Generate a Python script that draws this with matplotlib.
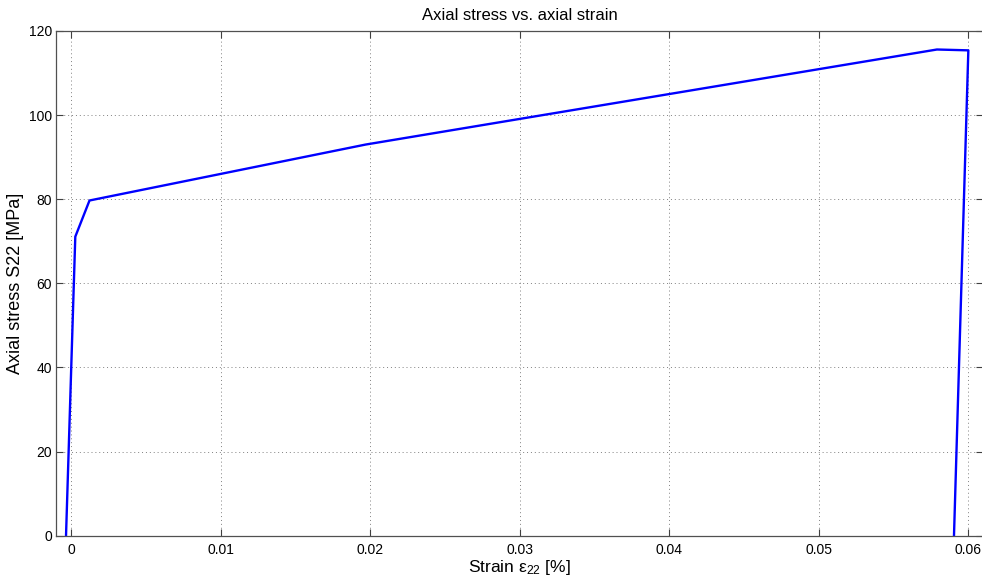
import matplotlib
matplotlib.use("Agg")
import matplotlib.pyplot as plt

plt.rcParams['font.family'] = ['Liberation Sans', 'DejaVu Sans']
plt.rcParams['mathtext.fontset'] = 'custom'
plt.rcParams['mathtext.rm'] = 'Liberation Sans'
plt.rcParams['mathtext.it'] = 'Liberation Sans'

# stress-strain path: elastic loading, hardening, unloading
strain = [-0.00033, 0.00029, 0.00124, 0.0197, 0.0579, 0.0600, 0.05904]
stress = [0.0, 71.1, 79.7, 93.0, 115.6, 115.4, 0.0]

x_ticks = [0, 0.01, 0.02, 0.03, 0.04, 0.05, 0.06]
x_tick_labels = ["0", "0.01", "0.02", "0.03", "0.04", "0.05", "0.06"]
y_ticks = [0, 20, 40, 60, 80, 100, 120]

W, H = 982, 581
fig = plt.figure(figsize=(W / 100, H / 100), dpi=100)
ax = fig.add_axes([56 / W, 45.3 / H, (983.3 - 56) / W, (535.7 - 31) / H])

ax.plot(strain, stress, color="#0000ff", lw=1.7)

ax.set_xlim(-0.001, 0.061)
ax.set_ylim(0, 120)
ax.set_xticks(x_ticks)
ax.set_xticklabels(x_tick_labels)
ax.set_yticks(y_ticks)

ax.grid(True, linestyle=(0, (1, 3)), color="#808080", lw=0.7)
ax.tick_params(direction="in", length=5, width=0.8, color="#404040",
               top=True, right=True, labelsize=10)
ax.tick_params(axis="x", pad=5)
ax.tick_params(axis="y", pad=3)
for s in ax.spines.values():
    s.set_color("#505050")
    s.set_linewidth(0.9)

ax.set_title("Axial stress vs. axial strain", fontsize=12, pad=8)
ax.set_xlabel(r"Strain ε$_{22}$ [%]", fontsize=12.5, labelpad=1)
ax.set_ylabel("Axial stress S22 [MPa]", fontsize=13, labelpad=3)

fig.savefig("out.png", dpi=100)
